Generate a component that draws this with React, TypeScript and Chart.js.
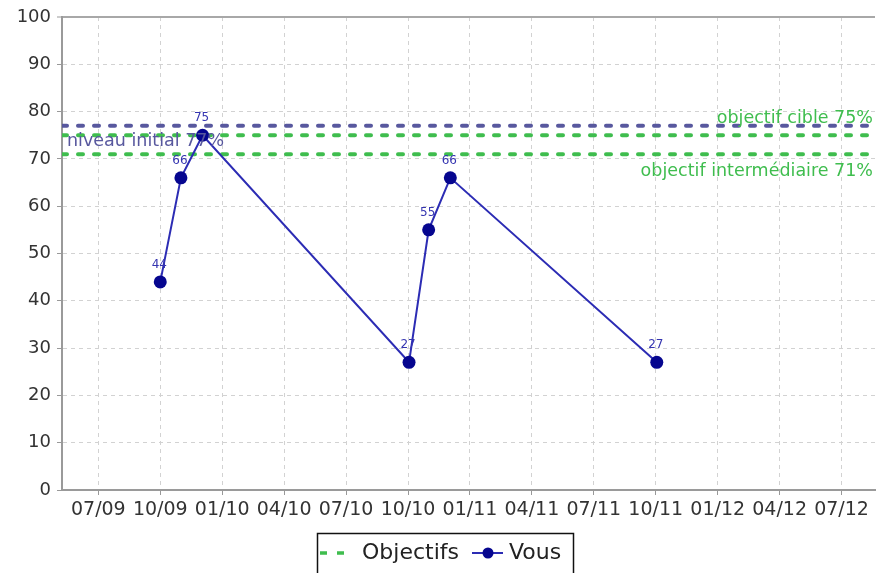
import React, { useEffect, useRef } from 'react';
import { Chart, registerables } from 'chart.js';

Chart.register(...registerables);

// ---- data ----
const tickMonths = [6, 9, 12, 15, 18, 21, 24, 27, 30, 33, 36, 39, 42]; // months since Jan 2009
const tickLabels = ['07/09', '10/09', '01/10', '04/10', '07/10', '10/10', '01/11', '04/11', '07/11', '10/11', '01/12', '04/12', '07/12'];
const xMinMonth = 4.24;
const xMaxMonth = 43.62;

const vousMonths = [9, 10, 11.05, 21.05, 22, 23.05, 33.05];
const vousValues = [44, 66, 75, 27, 55, 66, 27];

const niveauInitial = 77;
const objectifCible = 75;
const objectifIntermediaire = 71;

const yMin = 0;
const yMax = 100;
const yStep = 10;

const FONT = '"DejaVu Sans", "Liberation Sans", sans-serif';
const BLUE_LINE = '#2c2cb4';
const BLUE_POINT = '#06068f';
const SLATE = '#58589e';
const GREEN = '#3fbd4e';

const overlayPlugin = {
  id: 'overlay',
  afterDatasetsDraw(chart: any) {
    const ctx = chart.ctx as CanvasRenderingContext2D;
    const { left, right } = chart.chartArea;
    const ys = chart.scales.y;
    ctx.save();
    ctx.font = `17.5px ${FONT}`;
    ctx.textBaseline = 'middle';
    ctx.fillStyle = SLATE;
    ctx.textAlign = 'left';
    ctx.fillText(`niveau initial ${niveauInitial}%`, left + 5, ys.getPixelForValue(niveauInitial) + 16);
    ctx.fillStyle = GREEN;
    ctx.textAlign = 'right';
    ctx.fillText(`objectif cible ${objectifCible}%`, right - 2, ys.getPixelForValue(objectifCible) - 17);
    ctx.fillText(`objectif intermédiaire ${objectifIntermediaire}%`, right - 2, ys.getPixelForValue(objectifIntermediaire) + 17);

    // value labels above points
    const meta = chart.getDatasetMeta(0);
    ctx.font = `12px ${FONT}`;
    ctx.fillStyle = '#3434b0';
    ctx.textAlign = 'center';
    meta.data.forEach((pt: any, i: number) => {
      ctx.fillText(String(vousValues[i]), pt.x - 1, pt.y - 17);
    });
    ctx.restore();
  },
  afterDraw(chart: any) {
    const ctx = chart.ctx as CanvasRenderingContext2D;
    ctx.save();
    // legend box
    const bx = 317.5, by = 533.5, bw = 256, bh = 60;
    ctx.strokeStyle = '#111';
    ctx.lineWidth = 1.5;
    ctx.strokeRect(bx, by, bw, bh);
    const cy = 553;
    // Objectifs symbol: two short dashes
    ctx.strokeStyle = GREEN;
    ctx.lineWidth = 3.5;
    ctx.beginPath();
    ctx.moveTo(320, cy);
    ctx.lineTo(327, cy);
    ctx.moveTo(337, cy);
    ctx.lineTo(344, cy);
    ctx.stroke();
    ctx.font = `22px ${FONT}`;
    ctx.fillStyle = '#222';
    ctx.textBaseline = 'middle';
    ctx.textAlign = 'left';
    ctx.fillText('Objectifs', 362, cy);
    // Vous symbol
    ctx.strokeStyle = BLUE_LINE;
    ctx.lineWidth = 2;
    ctx.beginPath();
    ctx.moveTo(472, cy);
    ctx.lineTo(503, cy);
    ctx.stroke();
    ctx.fillStyle = BLUE_POINT;
    ctx.beginPath();
    ctx.arc(488, cy, 5.5, 0, Math.PI * 2);
    ctx.fill();
    ctx.fillStyle = '#222';
    ctx.fillText('Vous', 509, cy);
    ctx.restore();
  },
};

export default function App() {
  const ref = useRef<HTMLCanvasElement>(null);

  useEffect(() => {
    if (!ref.current) return;
    const hline = (v: number) => [
      { x: xMinMonth, y: v },
      { x: xMaxMonth, y: v },
    ];
    const dashed = (color: string) => ({
      borderColor: color,
      borderWidth: 4,
      borderDash: [5, 11],
      borderCapStyle: 'round',
      pointRadius: 0,
    });
    const chart = new Chart(ref.current, {
      type: 'line',
      data: {
        datasets: [
          {
            label: 'Vous',
            data: vousMonths.map((m, i) => ({ x: m, y: vousValues[i] })),
            borderColor: BLUE_LINE,
            borderWidth: 2,
            pointRadius: 6.5,
            pointBackgroundColor: BLUE_POINT,
            pointBorderColor: BLUE_POINT,
            pointBorderWidth: 0,
            tension: 0,
            order: 0,
          },
          { label: 'niveau initial', data: hline(niveauInitial), ...dashed(SLATE), order: 1 },
          { label: 'objectif cible', data: hline(objectifCible), ...dashed(GREEN), order: 2 },
          { label: 'objectif intermédiaire', data: hline(objectifIntermediaire), ...dashed(GREEN), order: 3 },
        ],
      },
      options: {
        responsive: false,
        animation: false,
        devicePixelRatio: 1,
        layout: { autoPadding: false, padding: { top: 17, right: 1, left: 0, bottom: 0 } },
        plugins: {
          legend: { display: false },
          tooltip: { enabled: false },
        },
        scales: {
          x: {
            type: 'linear',
            min: xMinMonth,
            max: xMaxMonth,
            afterBuildTicks: (scale: any) => {
              scale.ticks = tickMonths.map((v) => ({ value: v }));
            },
            afterFit: (scale: any) => {
              scale.height = 83;
              scale.paddingLeft = 0;
              scale.paddingRight = 0;
            },
            ticks: {
              autoSkip: false,
              maxRotation: 0,
              minRotation: 0,
              padding: 4,
              color: '#333',
              font: { family: FONT, size: 19 },
              callback: (_v: any, i: number) => tickLabels[i],
            },
            grid: {
              color: '#d2d2d2',
              lineWidth: 1,
              tickLength: 5,
              tickColor: '#999',
              tickWidth: 1,
            },
            border: { display: true, color: '#9a9a9a', width: 2, dash: [4, 4] },
          },
          y: {
            type: 'linear',
            min: yMin,
            max: yMax,
            afterFit: (scale: any) => {
              scale.width = 62;
            },
            ticks: {
              stepSize: yStep,
              padding: 6,
              color: '#333',
              font: { family: FONT, size: 18 },
            },
            grid: {
              color: (c: any) => (c.tick && c.tick.value === yMax ? '#a8a8a8' : '#d2d2d2'),
              lineWidth: (c: any) => (c.tick && c.tick.value === yMax ? 2 : 1),
              tickLength: 5,
              tickColor: '#999',
              tickWidth: 1,
            },
            border: {
              display: true,
              color: '#9a9a9a',
              width: 2,
              dash: (c: any) => (c.tick && c.tick.value === yMax ? [] : [4, 4]),
            } as any,
          },
        },
      },
      plugins: [overlayPlugin],
    } as any);
    return () => chart.destroy();
  }, []);

  return (
    <div style={{ position: 'absolute', left: 0, top: 0, width: 876, height: 573, background: '#fff' }}>
      <canvas ref={ref} width={876} height={573} style={{ width: 876, height: 573, display: 'block' }} />
    </div>
  );
}
